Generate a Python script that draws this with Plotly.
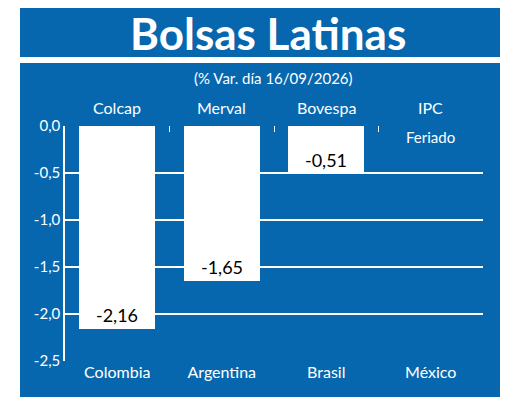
import plotly.graph_objects as go

countries = ["Colombia", "Argentina", "Brasil", "México"]
indices = ["Colcap", "Merval", "Bovespa", "IPC"]
values = [-2.16, -1.65, -0.51, None]
labels = ["-2,16", "-1,65", "-0,51", ""]
yticks = [0, -0.5, -1.0, -1.5, -2.0, -2.5]
yticklabels = ["0,0", "-0,5", "-1,0", "-1,5", "-2,0", "-2,5"]

BLUE = "#0767ae"
F = "Lato"
OX, OY = 8, 8  # page body offset
L, R, T, B = 65 - OX, 37 + OX, 126 - OY, 54 + OY
PW, PH = 520 - L - R, 415 - T - B

def px(x):
    return (x - OX - L) / PW

def py(y):
    return (415 - (y - OY) - B) / PH

fig = go.Figure(go.Bar(x=countries, y=values, marker=dict(color="white", line=dict(width=0)),
                       width=0.73, text=labels, textposition="inside", insidetextanchor="end",
                       textangle=0, textfont=dict(color="black", size=18, family=F), cliponaxis=False))
fig.add_trace(go.Scatter(x=[0], y=[0], xaxis="x2", mode="markers", marker=dict(opacity=0), showlegend=False, hoverinfo="skip"))

shapes = [
    dict(type="rect", xref="paper", yref="paper", x0=px(20), x1=px(500), y0=py(57), y1=py(7),
         fillcolor=BLUE, line=dict(width=0), layer="below"),
    dict(type="rect", xref="paper", yref="paper", x0=px(20), x1=px(500), y0=py(397), y1=py(63),
         fillcolor=BLUE, line=dict(width=0), layer="below"),
]
ann = [
    dict(text="<b>Bolsas Latinas</b>", xref="paper", yref="paper", x=px(268), y=py(33),
         showarrow=False, yanchor="middle", font=dict(color="white", size=44, family=F)),
    dict(text="(% Var. día 16/09/2026)", xref="paper", yref="paper", x=px(273), y=py(78),
         showarrow=False, yanchor="middle", font=dict(color="white", size=15, family=F)),
]
for i, n in enumerate(indices):
    ann.append(dict(text=n, x=i, xref="x", yref="paper", y=py(107), showarrow=False, yanchor="middle",
                    font=dict(color="white", size=16, family=F)))
ann.append(dict(text="Feriado", x=3, xref="x", y=py(137), yref="paper", showarrow=False, yanchor="middle",
                font=dict(color="white", size=15, family=F)))

fig.update_layout(
    width=520, height=415, paper_bgcolor="white", plot_bgcolor=BLUE,
    margin=dict(l=L, r=R, t=T, b=B, autoexpand=False), showlegend=False, bargap=0,
    shapes=shapes, annotations=ann,
    xaxis=dict(showgrid=False, showline=False, ticks="", tickfont=dict(color="white", size=16, family=F), range=[-0.5, 3.5]),
    xaxis2=dict(overlaying="x", side="top", range=[-0.5, 3.5], tickvals=[-0.5, 0.5, 1.5, 2.5, 3.5],
                showticklabels=False, ticks="inside", ticklen=6, tickcolor="white", showgrid=False, zeroline=False),
    yaxis=dict(range=[-2.5, 0], tickvals=yticks, ticktext=yticklabels, showgrid=True, gridcolor="white", gridwidth=1.5,
               zeroline=False, showline=True, linecolor="white", linewidth=1.5,
               tickfont=dict(color="white", size=15, family=F)),
)
fig.write_html("out.html")
